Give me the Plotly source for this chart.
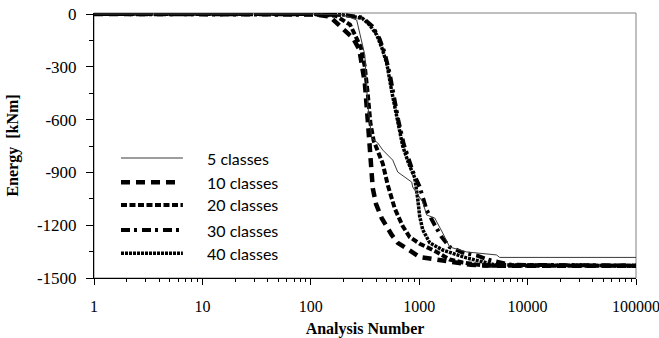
import plotly.graph_objects as go

# ---- data ----
x_tick_vals = [1, 10, 100, 1000, 10000, 100000]
x_tick_text = ["1", "10", "100", "1000", "10000", "100000"]
y_tick_vals = [0, -300, -600, -900, -1200, -1500]
y_tick_text = ["0", "-300", "-600", "-900", "-1200", "-1500"]

names = ["5 classes", "10 classes", "20 classes", "30 classes", "40 classes"]

x5 = [1, 100, 200, 265, 315, 335, 365, 415, 461, 570, 634, 853, 871, 1077, 1172, 1390, 1647, 1910, 2740, 5180, 5520, 100000]
e5 = [0, 0, -5, -34, -233, -517, -705, -733, -773, -830, -898, -955, -983, -1068, -1142, -1159, -1244, -1324, -1352, -1369, -1383, -1383]

x10 = [1, 100, 150, 197, 244, 280, 301, 315, 335, 350, 365, 373, 400, 451, 558, 634, 800, 1011, 1332, 1910, 3000, 5000, 100000]
e10 = [0, 0, -15, -80, -136, -200, -301, -392, -600, -780, -915, -990, -1080, -1160, -1255, -1300, -1340, -1381, -1392, -1409, -1425, -1430, -1430]

x20 = [1, 100, 170, 230, 290, 315, 335, 355, 380, 415, 461, 512, 595, 704, 817, 1011, 1449, 1910, 2518, 4000, 100000]
e20 = [0, 0, -10, -60, -190, -300, -450, -620, -720, -784, -850, -970, -1105, -1205, -1267, -1305, -1352, -1395, -1412, -1430, -1430]

x30 = [1, 100, 200, 300, 370, 430, 480, 535, 580, 640, 720, 800, 880, 1011, 1077, 1172, 1390, 1611, 1910, 2518, 3388, 4465, 7000, 100000]
e30 = [0, 0, -5, -20, -70, -140, -220, -340, -470, -600, -740, -830, -900, -983, -1040, -1114, -1199, -1267, -1324, -1355, -1372, -1398, -1425, -1430]

x40 = [1, 100, 200, 300, 350, 406, 451, 502, 558, 620, 704, 800, 909, 969, 1011, 1077, 1250, 1647, 2740, 5000, 100000]
e40 = [0, 0, -5, -25, -63, -119, -190, -280, -440, -580, -750, -850, -930, -1050, -1150, -1225, -1300, -1341, -1386, -1425, -1430]

xs = [x5, x10, x20, x30, x40]
es = [e5, e10, e20, e30, e40]

# ---- styles ----
styles = [
    dict(color="#3a3a3a", width=1, dash="solid"),
    dict(color="black", width=4.5, dash="9px,6px"),
    dict(color="black", width=4, dash="6px,2.5px"),
    dict(color="black", width=4, dash="9px,4px,3px,5px"),
    dict(color="black", width=3.5, dash="3px,1px"),
]

fig = go.Figure()
order = [1, 2, 3, 4, 0]
for i in order:
    fig.add_trace(go.Scatter(x=xs[i], y=es[i], mode="lines", name=names[i],
                             line=styles[i], showlegend=False))

# custom legend (long sample lines like the reference)
leg_y = [0.4528, 0.3611, 0.2755, 0.1811, 0.0932]
leg_x1 = [0.164, 0.153, 0.164, 0.164, 0.164]
shapes = [dict(type="rect", xref="paper", yref="paper", x0=0, x1=1, y0=0, y1=1,
               line=dict(color="#808080", width=1), layer="below")]
annotations = []
for i in range(5):
    shapes.append(dict(type="line", xref="paper", yref="paper", x0=0.0498, x1=leg_x1[i],
                       y0=leg_y[i], y1=leg_y[i], line=styles[i]))
    annotations.append(dict(xref="paper", yref="paper", x=0.2048, y=leg_y[i], text=names[i],
                            showarrow=False, xanchor="left", yanchor="middle",
                            font=dict(family="Lato", size=16, color="black")))

minor_x = [k * 10 ** d for d in range(5) for k in range(2, 10)]

fig.update_layout(
    width=659, height=338,
    margin=dict(l=94, r=23, t=13, b=60, autoexpand=False),
    paper_bgcolor="white", plot_bgcolor="white",
    shapes=shapes, annotations=annotations,
    xaxis=dict(type="log", range=[0, 5], showgrid=False, zeroline=False,
               showline=True, linecolor="black", linewidth=1,
               tickvals=x_tick_vals, ticktext=x_tick_text,
               ticks="outside", ticklen=6, tickcolor="black",
               ticklabelstandoff=8, ticklabeloverflow="allow",
               minor=dict(tickvals=minor_x, ticks="outside", ticklen=3, tickcolor="black"),
               tickfont=dict(family="Liberation Serif", size=16, color="black"),
               title=dict(text="<b>Analysis Number</b>", standoff=9,
                          font=dict(family="Liberation Serif", size=16, color="black"))),
    yaxis=dict(range=[-1500, 5.7], showgrid=False, zeroline=False,
               showline=True, linecolor="black", linewidth=1,
               tickvals=y_tick_vals, ticktext=y_tick_text,
               ticks="outside", ticklen=7, tickcolor="black",
               ticklabelstandoff=6,
               minor=dict(tickvals=[-150, -450, -750, -1050, -1350], ticks="outside",
                          ticklen=4, tickcolor="black"),
               tickfont=dict(family="Liberation Serif", size=17, color="black"),
               title=dict(text="<b>Energy\u00a0 [kNm]</b>", standoff=14,
                          font=dict(family="Liberation Serif", size=16, color="black"))),
)

fig.write_html("out.html")
